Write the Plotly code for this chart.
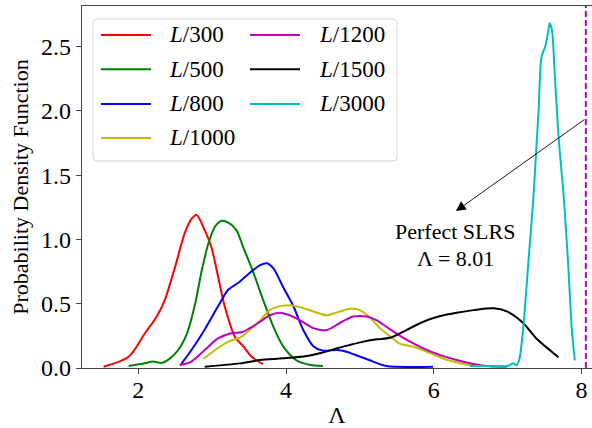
import plotly.graph_objects as go

# ---------------- data ----------------
names = ["<i>L</i>/300", "<i>L</i>/500", "<i>L</i>/800", "<i>L</i>/1000",
         "<i>L</i>/1200", "<i>L</i>/1500", "<i>L</i>/3000"]
colors = ["#ff0000", "#008000", "#0000ff", "#bfbf00", "#bf00bf", "#000000", "#00bfbf"]

x300 = [1.53, 1.87, 2.09, 2.25, 2.36, 2.50, 2.63, 2.72, 2.79, 2.90, 2.99, 3.17, 3.31, 3.42, 3.54, 3.69]
y300 = [0.01, 0.088, 0.27, 0.40, 0.53, 0.79, 1.05, 1.16, 1.19, 1.07, 0.94, 0.48, 0.24, 0.17, 0.085, 0.03]

x500 = [1.87, 2.09, 2.20, 2.32, 2.43, 2.54, 2.66, 2.77, 2.86, 2.95, 3.04, 3.13, 3.22, 3.33, 3.42,
        3.56, 3.69, 3.83, 3.96, 4.14, 4.33, 4.50]
y500 = [0.016, 0.037, 0.05, 0.04, 0.075, 0.14, 0.27, 0.50, 0.76, 0.97, 1.10, 1.145, 1.13, 1.07, 0.94,
        0.74, 0.53, 0.32, 0.17, 0.06, 0.023, 0.016]

x800 = [2.58, 2.72, 2.90, 3.08, 3.22, 3.36, 3.51, 3.65, 3.74, 3.83, 3.96, 4.10, 4.23, 4.37, 4.50,
        4.69, 4.82, 5.00, 5.18, 5.36, 5.99]
y800 = [0.03, 0.14, 0.30, 0.48, 0.61, 0.665, 0.74, 0.80, 0.815, 0.775, 0.63, 0.48, 0.30, 0.17, 0.135,
        0.14, 0.127, 0.088, 0.05, 0.015, 0.01]

x1000 = [2.88, 3.04, 3.22, 3.39, 3.51, 3.65, 3.78, 3.96, 4.14, 4.37, 4.55, 4.73, 4.87, 5.00, 5.14,
         5.27, 5.41, 5.54, 5.73, 5.96, 6.19, 6.41, 6.60]
y1000 = [0.07, 0.14, 0.205, 0.24, 0.295, 0.37, 0.45, 0.485, 0.48, 0.44, 0.41, 0.44, 0.46, 0.45, 0.39,
         0.31, 0.245, 0.19, 0.165, 0.114, 0.062, 0.031, 0.015]

x1200 = [2.56, 2.72, 2.90, 3.08, 3.26, 3.41, 3.51, 3.65, 3.78, 3.92, 4.05, 4.19, 4.37, 4.55, 4.73,
         4.91, 5.09, 5.23, 5.41, 5.63, 5.86, 6.09, 6.31, 6.54, 6.75, 6.99]
y1200 = [0.023, 0.05, 0.14, 0.23, 0.27, 0.28, 0.31, 0.36, 0.41, 0.43, 0.41, 0.37, 0.31, 0.295, 0.35,
         0.40, 0.40, 0.37, 0.30, 0.22, 0.153, 0.10, 0.062, 0.031, 0.013, 0.01]

x1500 = [2.90, 3.38, 3.65, 3.96, 4.28, 4.50, 4.69, 4.87, 5.05, 5.23, 5.41, 5.63, 5.86, 6.09, 6.31,
         6.54, 6.81, 6.99, 7.21, 7.39, 7.57, 7.69]
y1500 = [0.01, 0.036, 0.062, 0.075, 0.093, 0.12, 0.153, 0.18, 0.205, 0.223, 0.235, 0.295, 0.36, 0.404, 0.43,
         0.45, 0.464, 0.44, 0.35, 0.23, 0.14, 0.083]

x3000 = [6.49, 6.80, 7.00, 7.08, 7.12, 7.16, 7.21, 7.28, 7.35, 7.39, 7.42, 7.46, 7.51, 7.55, 7.57,
         7.60, 7.64, 7.69, 7.76, 7.82, 7.87, 7.91]
y3000 = [0.015, 0.015, 0.015, 0.036, 0.02, 0.07, 0.30, 0.81, 1.33, 1.72, 2.00, 2.42, 2.50, 2.615, 2.68,
         2.63, 2.27, 1.80, 1.33, 0.81, 0.30, 0.06]

xs = [x300, x500, x800, x1000, x1200, x1500, x3000]
ys = [y300, y500, y800, y1000, y1200, y1500, y3000]

perfect_x = 8.06          # visual position of the dashed line
perfect_label = ["Perfect SLRS", "Λ = 8.01"]
arrow_tail = (8.06, 1.94)
arrow_head = (6.30, 1.22)
label_x = 6.29
label_y = [1.058, 0.848]

xticks = [2, 4, 6, 8]
yticks = [0.0, 0.5, 1.0, 1.5, 2.0, 2.5]
xrange_ = [1.238, 8.143]
yrange_ = [0.0, 2.815]

FONT = "Liberation Serif, Times New Roman, serif"

fig = go.Figure()
for x, y, n, c in zip(xs, ys, names, colors):
    fig.add_trace(go.Scatter(x=x, y=y, mode="lines", name=n,
                             line=dict(color=c, width=2, shape="spline", smoothing=0.8),
                             showlegend=False))

# dashed vertical line
fig.add_shape(type="line", xref="x", yref="paper", x0=perfect_x, x1=perfect_x, y0=0, y1=1,
              line=dict(color="#bf00bf", width=2, dash="6px,3px"))

# arrow
fig.add_annotation(x=arrow_head[0], y=arrow_head[1], ax=arrow_tail[0], ay=arrow_tail[1],
                   xref="x", yref="y", axref="x", ayref="y", text="", showarrow=True,
                   arrowhead=2, arrowsize=2.2, arrowwidth=0.9, arrowcolor="#000000")
for t, yy in zip(perfect_label, label_y):
    fig.add_annotation(x=label_x, y=yy, xref="x", yref="y", text=t, showarrow=False,
                       font=dict(family=FONT, size=22, color="#000000"),
                       xanchor="center", yanchor="middle")

# ---------------- manual two-column legend ----------------
W, H, L, T = 510.0, 362.0, 82.0, 6.0
def px(xp):
    return (xp - L) / W
def py(yp):
    return (T + H - yp) / H

bx0, bx1, by0, by1 = px(93), px(397), py(161), py(19)
rx, ry = 4 / W, 4 / H
path = (f"M{bx0+rx},{by1} L{bx1-rx},{by1} Q{bx1},{by1} {bx1},{by1-ry} "
        f"L{bx1},{by0+ry} Q{bx1},{by0} {bx1-rx},{by0} L{bx0+rx},{by0} "
        f"Q{bx0},{by0} {bx0},{by0+ry} L{bx0},{by1-ry} Q{bx0},{by1} {bx0+rx},{by1} Z")
fig.add_shape(type="path", xref="paper", yref="paper", path=path,
              fillcolor="rgba(255,255,255,0.8)", line=dict(color="#d6d6d6", width=1), layer="above")

rows = [35, 69.3, 104, 138]
cols = [(101, 151, 167), (250, 300, 317)]
for i, (n, c) in enumerate(zip(names, colors)):
    col = 0 if i < 4 else 1
    row = i if i < 4 else i - 4
    s0, s1, tx = cols[col]
    yy = py(rows[row])
    fig.add_shape(type="line", xref="paper", yref="paper", x0=px(s0), x1=px(s1), y0=yy, y1=yy,
                  line=dict(color=c, width=2), layer="above")
    fig.add_annotation(x=px(tx), y=yy, xref="paper", yref="paper", text=n, showarrow=False,
                       xanchor="left", yanchor="middle",
                       font=dict(family=FONT, size=23, color="#000000"))

fig.update_layout(
    width=592, height=428,
    margin=dict(l=82, r=0, t=6, b=60, autoexpand=False),
    paper_bgcolor="white", plot_bgcolor="white",
    showlegend=False,
    font=dict(family=FONT, size=23, color="#000000"),
    xaxis=dict(range=xrange_, tickvals=xticks, ticks="outside", ticklen=5, tickwidth=1.2,
               tickcolor="#444444", showline=True, linecolor="#444444", linewidth=1.4,
               mirror=True, showgrid=False, zeroline=False, automargin=False,
               ticklabelstandoff=-5,
               tickfont=dict(family=FONT, size=24),
               title=dict(text="Λ", font=dict(family=FONT, size=24), standoff=8)),
    yaxis=dict(range=yrange_, tickvals=yticks, tickformat=".1f", ticks="outside", ticklen=5,
               tickwidth=1.2, tickcolor="#444444", showline=True, linecolor="#444444",
               linewidth=1.4, showgrid=False, zeroline=False, automargin=False,
               tickfont=dict(family=FONT, size=24),
               title=dict(text="Probability Density Function", font=dict(family=FONT, size=22),
                          standoff=6)),
)

fig.write_html("out.html")
